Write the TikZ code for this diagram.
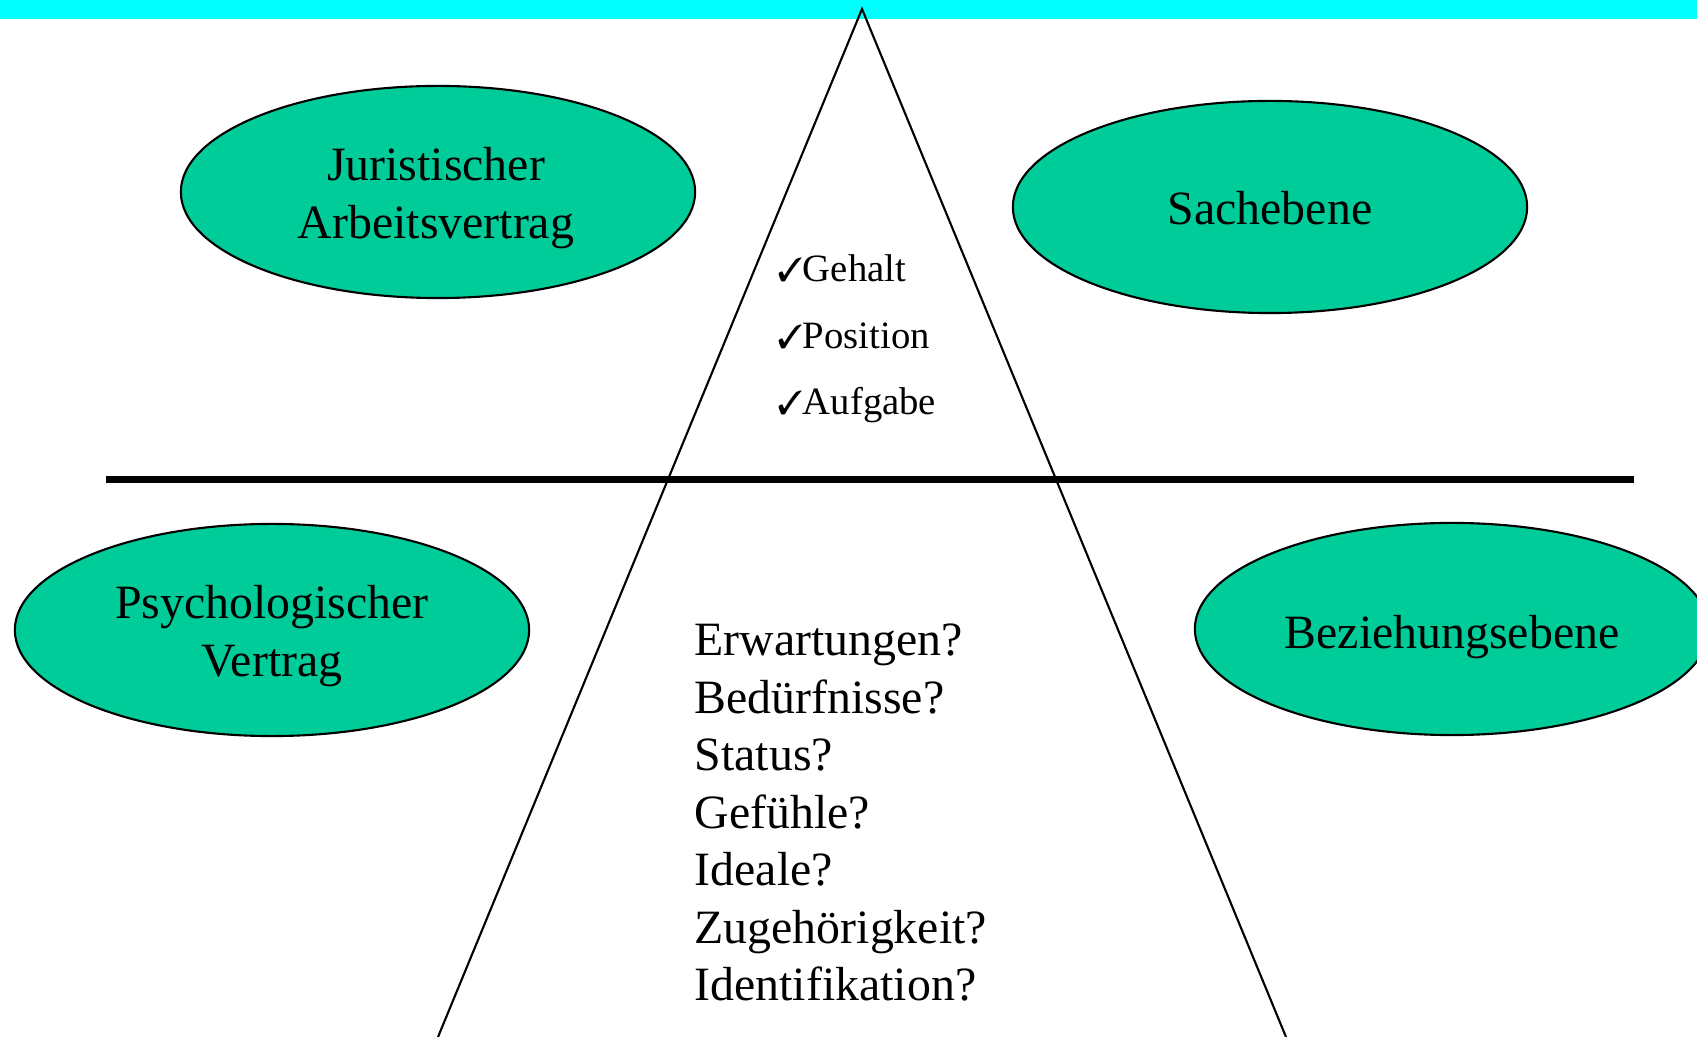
\documentclass[tikz,border=0pt]{standalone}
\usepackage{fontspec}
\setmainfont{Liberation Serif}
\usepackage{pifont}
\usetikzlibrary{shapes.geometric}
\definecolor{bluebar}{RGB}{0,255,255}
\definecolor{ovalgreen}{RGB}{0,204,153}
\newcommand{\tick}{{\fontsize{9.5}{11}\selectfont\ding{51}}}
\tikzset{
    oval/.style={ellipse, draw=black, line width=0.6pt, fill=ovalgreen, minimum width=5.14cm, minimum height=2.12cm, inner sep=0pt},
    ovaltext/.style={inner sep=0pt, align=center, font=\fontsize{13.6}{16.4}\selectfont},
    checkitem/.style={anchor=base west, inner sep=0pt, font=\fontsize{11}{13}\selectfont},
    question/.style={anchor=base west, inner sep=0pt, font=\fontsize{13.6}{16.4}\selectfont}
}
\begin{document}
\begin{tikzpicture}[x=0.01cm, y=-0.01cm]
    \useasboundingbox (0,0) rectangle (1697,1037);
    \clip (0,0) rectangle (1697,1037);

    % draw top bar
    \fill[bluebar] (0,0) rectangle (1697,19);

    % draw triangle
    \coordinate (apex) at (862,9);
    \coordinate (leftfoot) at (438,1037);
    \coordinate (rightfoot) at (1286,1037);
    \draw[line width=0.6pt] (leftfoot) -- (apex) -- (rightfoot);

    % draw dividing line
    \coordinate (lineL) at (106,479.5);
    \coordinate (lineR) at (1634,479.5);
    \draw[line width=2pt] (lineL) -- (lineR);

    % draw ovals
    \node[oval] (jur) at (438,192) {};
    \node[oval] (sach) at (1270,207) {};
    \node[oval] (psy) at (272,630) {};
    \node[oval] (bez) at (1452,629) {};

    % draw oval labels
    \node[ovaltext] (jurtext) at (436,198) {Juristischer\\Arbeitsvertrag};
    \node[ovaltext] (sachtext) at (1270,208) {Sachebene};
    \node[ovaltext] (psytext) at (272,636) {Psychologischer\\Vertrag};
    \node[ovaltext] (beztext) at (1452,637) {Beziehungsebene};

    % draw check list
    \node[checkitem] (gehalt) at (777,281.5) {\tick Gehalt};
    \node[checkitem] (position) at (777,349) {\tick Position};
    \node[checkitem] (aufgabe) at (777,415) {\tick Aufgabe};

    % draw questions
    \foreach \q [count=\i] in {Erwartungen?, Bedürfnisse?, Status?, Gefühle?, Ideale?, Zugehörigkeit?, Identifikation?}
        \node[question] (q\i) at (694,{656+57.4*(\i-1)}) {\q};
\end{tikzpicture}
\end{document}
